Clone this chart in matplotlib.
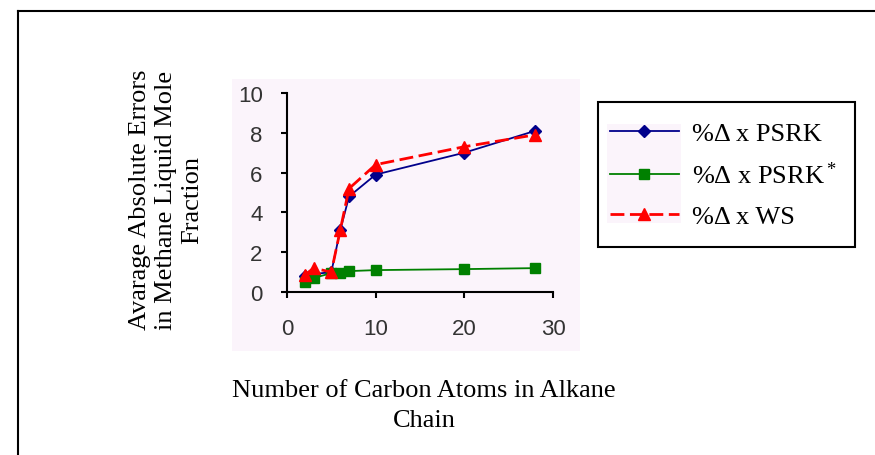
import matplotlib
matplotlib.use("Agg")
import matplotlib.pyplot as plt
from matplotlib.lines import Line2D
from matplotlib.patches import Rectangle

# data
carbons = [2, 3, 5, 6, 7, 10, 20, 28]
psrk = [0.8, 0.9, 1.0, 3.1, 4.8, 5.9, 7.0, 8.1]
psrk_star = [0.5, 0.7, 0.95, 0.95, 1.05, 1.1, 1.15, 1.2]
ws = [0.85, 1.2, 1.0, 3.1, 5.2, 6.4, 7.3, 7.9]

labels = ["%\u0394 x PSRK", "%\u0394 x PSRK$^*$", "%\u0394 x WS"]
serif = "Liberation Serif"
sans = "Liberation Sans"

plt.rcParams['mathtext.fontset'] = 'custom'
plt.rcParams['mathtext.rm'] = serif
plt.rcParams['mathtext.it'] = serif

W, H = 875, 456
fig = plt.figure(figsize=(W / 100, H / 100), dpi=100)

# outer frame (left and top edges visible)
fig.add_artist(Line2D([18 / W, 18 / W], [0, 1 - 12 / H], color='black', lw=1.5))
fig.add_artist(Line2D([18 / W, 1], [1 - 12 / H, 1 - 12 / H], color='black', lw=1.5))

# plot area background
fig.add_artist(Rectangle((232 / W, 1 - 352 / H), (580 - 232) / W, (352 - 80) / H,
                         transform=fig.transFigure, facecolor='#fbf4fb',
                         edgecolor='none', zorder=0))

ax = fig.add_axes([287 / W, 1 - 293 / H, (553 - 287) / W, (293 - 94) / H])
ax.patch.set_alpha(0)

ax.plot(carbons, psrk, color='#00008b', lw=1.3, marker='D', ms=6, label=labels[0])
ax.plot(carbons, psrk_star, color='#008000', lw=1.3, marker='s', ms=7, label=labels[1])
ax.plot(carbons, ws, color='#ff0000', lw=2, ls=(0, (5, 2)), marker='^', ms=8, label=labels[2])

ax.set_xlim(0, 30)
ax.set_ylim(0, 10)
ax.set_xticks([0, 10, 20, 30])
ax.set_yticks([0, 2, 4, 6, 8, 10])
ax.spines['top'].set_visible(False)
ax.spines['right'].set_visible(False)
ax.spines['left'].set_linewidth(1.5)
ax.spines['bottom'].set_linewidth(1.5)
ax.tick_params(length=4.5, width=1.5, labelsize=16, colors='black')
ax.tick_params(axis='x', pad=14)
ax.tick_params(axis='y', pad=13)
for t in ax.get_xticklabels() + ax.get_yticklabels():
    t.set_fontfamily(sans)
    t.set_color('#333333')

fig.text(166 / W, 1 - 200 / H, "Avarage Absolute Errors\nin Methane Liquid Mole\nFraction",
         rotation=90, ha='center', va='center', family=serif, fontsize=19,
         linespacing=1.25)
fig.text(424 / W, 1 - 406 / H, "Number of Carbon Atoms in Alkane\nChain",
         ha='center', va='center', family=serif, fontsize=19, linespacing=1.45)

# legend frame drawn by hand, legend entries placed inside it
fig.add_artist(Rectangle((598 / W, 1 - 248 / H), (855 - 598) / W, (248 - 103) / H,
                         transform=fig.transFigure, facecolor='white',
                         edgecolor='black', lw=1.5, zorder=1))
fig.add_artist(Rectangle((607 / W, 1 - 224 / H), (681 - 607) / W, (224 - 125) / H,
                         transform=fig.transFigure, facecolor='#fbf4fb',
                         edgecolor='none', zorder=1.5))
leg = fig.legend(loc='upper left', bbox_to_anchor=(610 / W, 1 - 123 / H),
                 prop={'family': serif, 'size': 19}, frameon=False,
                 handlelength=2.6, borderpad=0, labelspacing=0.62, handletextpad=0.5,
                 borderaxespad=0)
leg.set_zorder(2)

fig.savefig("out.png", dpi=100)
